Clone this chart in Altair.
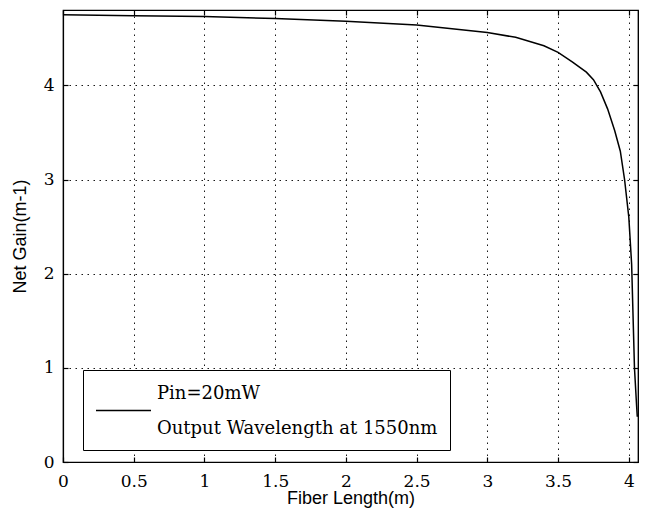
import altair as alt
import pandas as pd

# Fiber length (m) and net gain (m-1)
fiber_length = [0.0, 0.5, 1.0, 1.5, 2.0, 2.5, 3.0, 3.2, 3.4, 3.5, 3.6, 3.7, 3.75,
                3.8, 3.85, 3.9, 3.94, 3.97, 4.0, 4.02, 4.04, 4.055, 4.06]
net_gain = [4.75, 4.74, 4.73, 4.71, 4.68, 4.64, 4.56, 4.51, 4.42, 4.35, 4.25, 4.14, 4.06,
            3.93, 3.75, 3.52, 3.30, 3.00, 2.60, 2.10, 1.00, 0.60, 0.48]
series_label = "Pin=20mW|Output Wavelength at 1550nm"

x_ticks = [0, 0.5, 1, 1.5, 2, 2.5, 3, 3.5, 4]
y_ticks = [0, 1, 2, 3, 4]

df = pd.DataFrame({"len": fiber_length, "gain": net_gain, "series": series_label})

x_scale = alt.Scale(domain=[0, 4.065], nice=False, zero=False)
y_scale = alt.Scale(domain=[0, 4.8], nice=False)

base = alt.Chart(df)

main = base.mark_line(color="black", strokeWidth=1.5).encode(
    x=alt.X("len:Q", scale=x_scale, title="Fiber Length(m)",
            axis=alt.Axis(values=x_ticks, format="~g", orient="bottom",
                          labelPadding=16, labelFlush=False,
                          titleY=41, titleBaseline="alphabetic")),
    y=alt.Y("gain:Q", scale=y_scale, title="Net Gain(m-1)",
            axis=alt.Axis(values=y_ticks, format="~g", orient="left",
                          labelPadding=14, labelFlush=False, titlePadding=14)),
    color=alt.Color("series:N", scale=alt.Scale(range=["black"]),
                    legend=alt.Legend(orient="none", legendX=20, legendY=360, title=None,
                                      strokeColor="black", fillColor="white", padding=12,
                                      symbolType="stroke", symbolSize=3025,
                                      symbolStrokeWidth=1.5, symbolStrokeColor="black",
                                      labelFont="DejaVu Serif", labelFontSize=18,
                                      labelColor="black", labelLimit=500, labelOffset=5,
                                      labelBaseline="line-bottom",
                                      labelExpr="split(datum.label, '|')")),
)

mirror = base.mark_line(opacity=0).encode(
    x=alt.X("len:Q", scale=x_scale,
            axis=alt.Axis(values=x_ticks, orient="top", labels=False, title=None, grid=False)),
    y=alt.Y("gain:Q", scale=y_scale,
            axis=alt.Axis(values=y_ticks, orient="right", labels=False, title=None, grid=False)),
)

chart = alt.layer(main, mirror).resolve_axis(x="independent", y="independent").properties(
    width=575, height=452,
    autosize=alt.AutoSizeParams(type="none"),
    padding={"left": 55, "top": 2, "right": 1, "bottom": 48},
).configure_view(
    stroke="black", strokeWidth=1.2
).configure_axis(
    grid=True, gridColor="black", gridDash=[1.5, 4.5], gridWidth=1, gridOpacity=0.9,
    domainColor="black", domainWidth=1.2,
    tickColor="black", tickSize={"expr": "-5"}, tickWidth=1.2,
    labelFont="DejaVu Serif", labelFontSize=17, labelColor="black",
    titleFont="Liberation Sans", titleFontSize=18, titleFontWeight="normal", titleColor="black",
)
chart.config.style = {"guide-label": {"lineHeight": 35}}

chart.save("out.html", embed_options={"renderer": "svg", "actions": False})
